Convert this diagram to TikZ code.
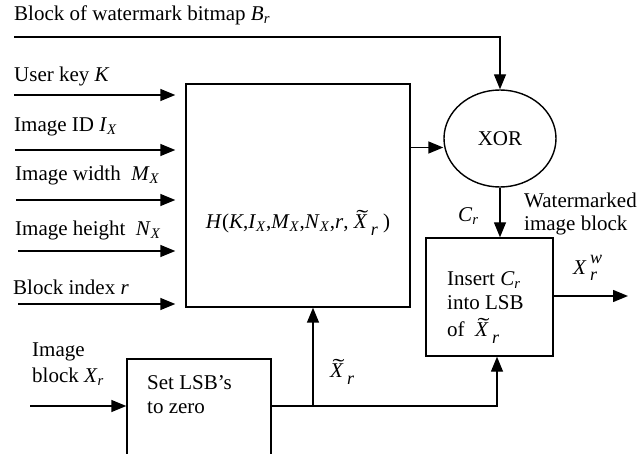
\documentclass[tikz,border=0pt]{standalone}
\usepackage{fontspec}
\usepackage{graphicx}
\setmainfont{Liberation Serif}
\usetikzlibrary{arrows.meta,shapes.geometric}

% italic letter with italic subscript
\newcommand\itsub[2]{\textit{#1}\textsubscript{\textit{#2}}}
% X with a wide tilde on top
\newcommand\tildeX{\makebox[0pt][l]{\hspace{0.12em}\raisebox{0.17em}{\scalebox{1.7}[1]{\char"02DC}}}\textit{X}}
% X tilde with lowered index r
\newcommand\Xtr{\tildeX\,\raisebox{-0.32em}{\fontsize{18}{20}\selectfont\textit{r}}}

\tikzset{
  lbl/.style={font=\fontsize{21}{25}\selectfont, inner sep=0pt, anchor=west, align=left},
  blk/.style={draw, line width=1.4pt, inner sep=0pt},
  arr/.style={line width=1.4pt, -{Triangle[length=15pt,width=12pt]}},
  wire/.style={line width=1.4pt}
}

\begin{document}
\begin{tikzpicture}[x=1pt, y=-1pt]
\useasboundingbox (0,0) rectangle (640,454);

% blocks
\node[blk, minimum width=224pt, minimum height=223pt] (H) at (298,195.5) {};
\node[blk, ellipse, minimum width=112pt, minimum height=97pt,
      font=\fontsize{21}{25}\selectfont] (xor) at (500,138.5) {XOR};
\node[blk, minimum width=127pt, minimum height=118pt] (ins) at (489.5,297) {};
\node[blk, minimum width=144pt, minimum height=111pt] (lsb) at (199,414.5) {};

% texts inside blocks
\node[lbl, anchor=center] (hlab) at (298,223)
  {\textit{H}(\textit{K},\itsub{I}{X},\itsub{M}{X},\itsub{N}{X},\textit{r}, \Xtr\ )};
\node[lbl] (ins1) at (447,280) {Insert \itsub{C}{r}};
\node[lbl] (ins2) at (447,303) {into LSB};
\node[lbl] (ins3) at (447,331) {of \ \Xtr};
\node[lbl] (lsb1) at (147,383) {Set LSB’s};
\node[lbl] (lsb2) at (147,408) {to zero};

% input labels
\node[lbl] (tb) at (14,15) {Block of watermark bitmap \itsub{B}{r}};
\node[lbl] (tk) at (14,76) {User key \textit{K}};
\node[lbl] (ti) at (14,127) {Image ID \itsub{I}{X}};
\node[lbl] (tm) at (15,175) {Image width\ \ \itsub{M}{X}};
\node[lbl] (tn) at (15,230) {Image height\ \ \itsub{N}{X}};
\node[lbl] (tr) at (13,287) {Block index \textit{r}};
\node[lbl] (tx) at (32,352) {Image};
\node[lbl] (tx2) at (32,377) {block \itsub{X}{r}};

% other labels
\node[lbl] (tc) at (458,216) {\itsub{C}{r}};
\node[lbl] (tw1) at (524,200) {Watermarked};
\node[lbl] (tw2) at (524,225) {image block};
\node[lbl] (txw) at (573,268)
  {\textit{X}\,\rlap{\raisebox{0.5em}{\fontsize{18}{20}\selectfont\textit{w}}}\raisebox{-0.3em}{\fontsize{18}{20}\selectfont\textit{r}}};
\node[lbl] (txt) at (330,372) {\Xtr};

% free ends of connectors
\coordinate (bin) at (14,37);
\coordinate (kin) at (14,95);
\coordinate (iin) at (15,150);
\coordinate (min) at (16,200);
\coordinate (nin) at (18,251);
\coordinate (rin) at (18,304);
\coordinate (xin) at (30,406);
\coordinate (j) at (313,406);
\coordinate (out) at (628,296);

% connectors
\draw[arr] (bin) -| (xor.north);
\foreach \c in {kin,iin,min,nin,rin}
  \draw[arr, shorten >=10pt] (\c) -- (\c -| H.west);
\draw[arr] ([yshift=-9pt]xor.west -| H.east) -- ([yshift=-9pt]xor.west);
\draw[arr] (xor.south) -- (xor.south |- ins.north);
\draw[arr] (ins.east |- out) -- (out);
\draw[arr] (xin) -- (xin -| lsb.west);
\draw[wire] (lsb.east |- j) -- (j);
\draw[arr] (j) -- (j |- H.south);
\draw[arr] (j) -| ([xshift=7.5pt]ins.south);
\end{tikzpicture}
\end{document}
